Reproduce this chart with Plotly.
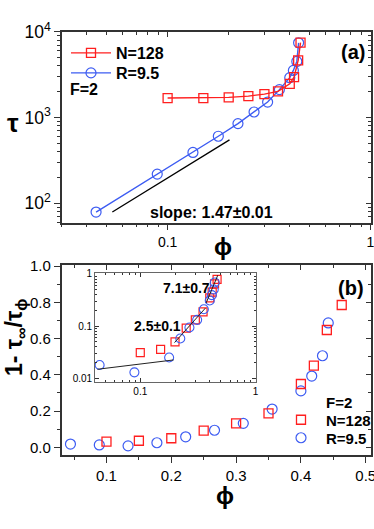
import plotly.graph_objects as go

# ---- panel (a): relaxation time vs packing fraction (log-log)
phi_R = [0.0444, 0.0889, 0.1333, 0.1778, 0.2222, 0.2667, 0.3111, 0.3556, 0.40, 0.4167, 0.4333, 0.4422]
tau_R = [79, 219, 392, 606, 851, 1162, 1518, 2120, 2920, 3550, 4520, 7450]
phi_N_a = [0.10, 0.15, 0.20, 0.25, 0.30, 0.35, 0.40, 0.42, 0.44, 0.452]
tau_N = [1690, 1690, 1720, 1780, 1880, 2020, 2480, 2960, 4640, 7480]
slope_x = [0.0534, 0.2018]
slope_y = [79, 549]

# ---- panel (b): 1 - tau_inf / tau_phi
phi_N_b = [0.10, 0.15, 0.20, 0.25, 0.30, 0.35, 0.40, 0.42, 0.44, 0.463]
frac_N = [0.031, 0.036, 0.050, 0.092, 0.132, 0.187, 0.349, 0.450, 0.647, 0.785]
frac_R = [0.018, 0.013, 0.008, 0.025, 0.058, 0.094, 0.132, 0.211, 0.311, 0.393, 0.505, 0.686]

# inset fit lines
fit1_x, fit1_y = [0.0425, 0.1945], [0.0149, 0.0225]
fit2_x, fit2_y = [0.198, 0.367], [0.0484, 0.222]
fit3_x, fit3_y = [0.372, 0.47], [0.277, 0.95]

W, H = 374, 529
RED = "#ff1f1f"
BLUE = "#3d5cf2"
AX = "#333333"
FONT = "Arial, Liberation Sans, sans-serif"


def px(x):
    return x / W


def py(y):
    return 1 - y / H


fig = go.Figure()

# panel (a)
fig.add_trace(go.Scatter(x=phi_R, y=tau_R, mode="lines+markers", name="R=9.5",
                         line=dict(color=BLUE, width=1.4),
                         marker=dict(symbol="circle-open", size=10, color=BLUE, line=dict(width=1.2)),
                         xaxis="x", yaxis="y", legend="legend3", cliponaxis=False))
fig.add_trace(go.Scatter(x=phi_N_a, y=tau_N, mode="lines+markers", name="N=128",
                         line=dict(color=RED, width=1.4),
                         marker=dict(symbol="square-open", size=9, color=RED, line=dict(width=1.3)),
                         xaxis="x", yaxis="y", legend="legend", cliponaxis=False))
fig.add_trace(go.Scatter(x=slope_x, y=slope_y, mode="lines", line=dict(color="black", width=1.3),
                         showlegend=False, xaxis="x", yaxis="y"))

# panel (b)
fig.add_trace(go.Scatter(x=phi_R, y=frac_R, mode="markers", name="R=9.5",
                         marker=dict(symbol="circle-open", size=10, color=BLUE, line=dict(width=1.2)),
                         xaxis="x2", yaxis="y2", legend="legend4"))
fig.add_trace(go.Scatter(x=phi_N_b, y=frac_N, mode="markers", name="N=128",
                         marker=dict(symbol="square-open", size=9, color=RED, line=dict(width=1.3)),
                         xaxis="x2", yaxis="y2", legend="legend2"))

# inset
fig.add_trace(go.Scatter(x=phi_N_b, y=frac_N, mode="markers", showlegend=False, cliponaxis=False,
                         marker=dict(symbol="square-open", size=8, color=RED, line=dict(width=1.2)),
                         xaxis="x3", yaxis="y3"))
fig.add_trace(go.Scatter(x=phi_R, y=frac_R, mode="markers", showlegend=False, cliponaxis=False,
                         marker=dict(symbol="circle-open", size=9, color=BLUE, line=dict(width=1.1)),
                         xaxis="x3", yaxis="y3"))
for fx, fy in [(fit1_x, fit1_y), (fit2_x, fit2_y), (fit3_x, fit3_y)]:
    fig.add_trace(go.Scatter(x=fx, y=fy, mode="lines", line=dict(color="#222222", width=1),
                             showlegend=False, xaxis="x3", yaxis="y3"))

# empty traces so the mirrored tick axes exist
fig.add_trace(go.Scatter(x=[], y=[], xaxis="x4", yaxis="y4", showlegend=False, hoverinfo="skip"))
fig.add_trace(go.Scatter(x=[], y=[], xaxis="x5", yaxis="y5", showlegend=False, hoverinfo="skip"))

dom_a_x = [px(61.5), px(370.5)]
dom_a_y = [py(222.5), py(31.7)]
dom_b_x = [px(61.7), px(370.7)]
dom_b_y = [py(455), py(265)]
rng_ax = [-1.523, 0]
rng_ay = [1.776, 4.002]
rng_bx = [0.0309, 0.5077]
rng_by = [-0.0425, 1.0055]

base = dict(showgrid=False, zeroline=False, linecolor=AX, linewidth=1.6, tickcolor=AX,
            tickwidth=1.3, ticklabeloverflow="allow",
            tickfont=dict(family=FONT, size=14, color="black"))
over = dict(showgrid=False, zeroline=False, showline=False, showticklabels=False,
            ticks="inside", ticklen=5, tickwidth=1.3, tickcolor=AX)


def leg(x, y, size, iw):
    return dict(x=px(x), y=py(y), xanchor="left", yanchor="middle", bgcolor="rgba(0,0,0,0)",
                itemwidth=iw, font=dict(family=FONT, size=size, color="black", weight="bold"))


fig.update_layout(
    width=W, height=H, margin=dict(l=0, r=0, t=0, b=0, autoexpand=False),
    paper_bgcolor="white", plot_bgcolor="white",
    font=dict(family=FONT, color="black"),
    xaxis=dict(base, domain=dom_a_x, anchor="y", type="log", range=rng_ax, dtick=1,
               ticks="outside", ticklen=6, showline=True, mirror=True,
               minor=dict(ticks="outside", ticklen=3, dtick="D1", tickcolor=AX)),
    yaxis=dict(base, domain=dom_a_y, anchor="x", type="log", range=rng_ay, dtick=1,
               exponentformat="power", ticks="outside", ticklen=6, showline=True, mirror=True,
               minor=dict(ticks="outside", ticklen=3, dtick="D1", tickcolor=AX)),
    xaxis4=dict(over, overlaying="x", anchor="y", side="top", type="log", range=rng_ax, dtick=1,
                minor=dict(ticks="inside", ticklen=3, dtick="D1", tickcolor=AX)),
    yaxis4=dict(over, overlaying="y", anchor="x", side="right", type="log", range=rng_ay, dtick=1,
                minor=dict(ticks="inside", ticklen=3, dtick="D1", tickcolor=AX)),
    xaxis2=dict(base, domain=dom_b_x, anchor="y2", range=rng_bx, tick0=0, dtick=0.1,
                tickformat=".1f", ticks="outside", ticklen=6, showline=True, mirror=True,
                tickfont=dict(family=FONT, size=15, color="black"),
                minor=dict(ticks="outside", ticklen=3, dtick=0.05, tickcolor=AX)),
    yaxis2=dict(base, domain=dom_b_y, anchor="x2", range=rng_by, tick0=0, dtick=0.2,
                tickformat=".1f", ticks="outside", ticklen=6, showline=True, mirror=True,
                tickfont=dict(family=FONT, size=15, color="black"),
                minor=dict(ticks="outside", ticklen=3, dtick=0.1, tickcolor=AX)),
    xaxis5=dict(over, overlaying="x2", anchor="y2", side="top", range=rng_bx, tick0=0, dtick=0.1,
                minor=dict(ticks="inside", ticklen=3, dtick=0.05, tickcolor=AX)),
    yaxis5=dict(over, overlaying="y2", anchor="x2", side="right", range=rng_by, tick0=0, dtick=0.2,
                minor=dict(ticks="inside", ticklen=3, dtick=0.1, tickcolor=AX)),
    xaxis3=dict(base, domain=[px(95.3), px(256)], anchor="y3", type="log", range=[-1.39, 0.003],
                dtick=1, ticks="inside", ticklen=4, showline=True, mirror="ticks", linecolor="#666666",
                linewidth=1.3, tickfont=dict(family=FONT, size=10, color="black"),
                minor=dict(ticks="inside", ticklen=2, dtick="D1", tickcolor=AX)),
    yaxis3=dict(base, domain=[py(381.7), py(273.3)], anchor="x3", type="log", range=[-2.065, 0.013],
                dtick=1, ticks="inside", ticklen=4, showline=True, mirror="ticks", linecolor="#666666",
                linewidth=1.3, tickfont=dict(family=FONT, size=10, color="black"),
                minor=dict(ticks="inside", ticklen=2, dtick="D1", tickcolor=AX)),
    legend=leg(66, 53, 16, 40),
    legend3=leg(66, 73, 16, 40),
    legend2=leg(276, 420, 15, 40),
    legend4=leg(276, 438, 15, 40),
)


def note(text, x, y, size, bold=True, xanchor="center", angle=0):
    fig.add_annotation(text=text, x=px(x), y=py(y), xref="paper", yref="paper", showarrow=False,
                       xanchor=xanchor, yanchor="middle", textangle=angle,
                       font=dict(family=FONT, size=size, color="black",
                                 weight="bold" if bold else "normal"))


note("τ", 13, 123, 26)
note("ϕ", 223, 246, 24)
note("slope: 1.47±0.01", 211, 212, 16)
note("(a)", 353, 52, 20)
note("F=2", 68, 90, 16, xanchor="left")
note("(b)", 351, 288, 20)
note("F=2", 324, 402, 15, xanchor="left")
note("7.1±0.7", 186, 288, 14)
note("2.5±0.1", 157, 326, 14)
note("1- τ<sub>∞</sub>/τ<sub>ϕ</sub>", 15, 338, 23, angle=-90)
note("ϕ", 225, 495, 24)

page_fix = (
    "document.body.style.margin='0';"
    "document.body.style.overflow='hidden';"
    "var s=document.createElement('style');"
    "s.textContent='.modebar-container{display:none !important;}';"
    "document.head.appendChild(s);"
)
fig.write_html("out.html", post_script=page_fix)
